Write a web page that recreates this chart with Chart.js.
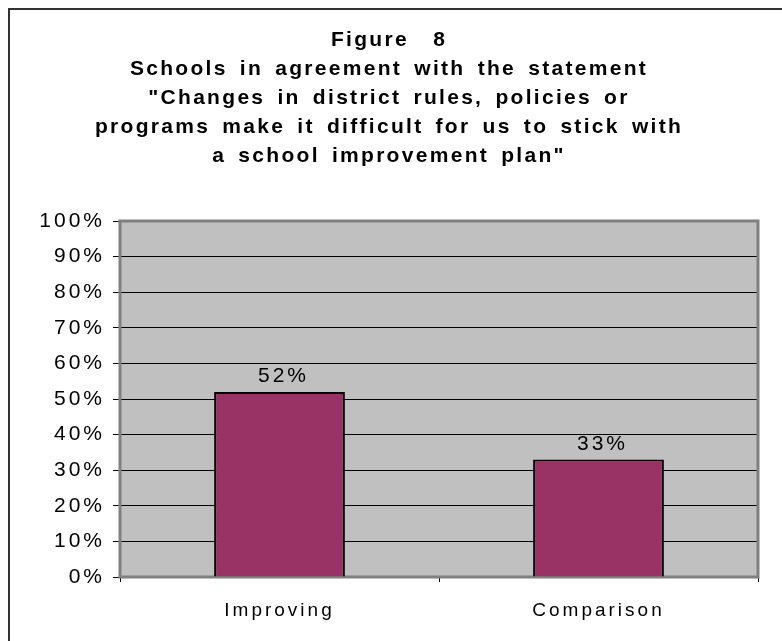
<!DOCTYPE html>
<html>
<head>
<meta charset="utf-8">
<script src="https://cdn.jsdelivr.net/npm/chart.js@4"></script>
<style>
    html, body { margin: 0; padding: 0; background: #ffffff; }
    #wrap { width: 782px; height: 641px; }
</style>
</head>
<body>
<div id="wrap"><canvas id="chart"></canvas></div>
<script>
// Données du graphique
const categories = ['Improving', 'Comparison'];
const agreementValues = [0.52, 0.33];
const yTickValues = [0, 0.1, 0.2, 0.3, 0.4, 0.5, 0.6, 0.7, 0.8, 0.9, 1];
const titleLines = [
    'Figure  8',
    'Schools in agreement with the statement',
    '"Changes in district rules, policies or',
    'programs make it difficult for us to stick with',
    'a school improvement plan"'
];

const FONT = "'Liberation Sans', Arial, sans-serif";

/**
 * Espacement des lettres (texte style Excel)
 * Le titre a un espacement un peu plus serré que les axes
 */
const spacingPlugin = {
    id: 'spacing',
    beforeLayout(chart) {
        chart.ctx.letterSpacing = '3px';
        chart.ctx.wordSpacing = '4px';
    },
    afterLayout(chart) {
        const title = chart.titleBlock;
        if (title && !title._spaced) {
            const draw = title.draw.bind(title);
            title.draw = function () {
                const c = this.ctx;
                const old = c.letterSpacing;
                c.letterSpacing = '2.3px';
                draw();
                c.letterSpacing = old;
            };
            title._spaced = true;
        }
    },
    beforeDraw(chart) {
        chart.ctx.letterSpacing = '3px';
        chart.ctx.wordSpacing = '4px';
    }
};

/**
 * Cadre extérieur et fond gris de la zone de tracé
 */
const backgroundPlugin = {
    id: 'plotBackground',
    beforeDraw(chart) {
        const { ctx, chartArea: a } = chart;
        ctx.save();
        ctx.strokeStyle = '#333333';
        ctx.lineWidth = 2;
        ctx.beginPath();
        ctx.moveTo(9, 700);
        ctx.lineTo(9, 9);
        ctx.lineTo(900, 9);
        ctx.stroke();
        ctx.fillStyle = '#c0c0c0';
        ctx.fillRect(a.left, a.top, a.right - a.left, a.bottom - a.top);
        ctx.restore();
    },
    beforeDatasetsDraw(chart) {
        const { ctx, chartArea: a } = chart;
        ctx.save();
        ctx.strokeStyle = '#808080';
        ctx.lineWidth = 3;
        ctx.strokeRect(a.left, a.top, a.right - a.left, a.bottom - a.top);
        ctx.restore();
    }
};

/**
 * Étiquettes de valeur au-dessus des barres
 */
const valueLabelPlugin = {
    id: 'valueLabels',
    afterDatasetsDraw(chart) {
        const { ctx } = chart;
        const meta = chart.getDatasetMeta(0);
        ctx.save();
        ctx.font = '21px ' + FONT;
        ctx.fillStyle = '#000000';
        ctx.textAlign = 'center';
        ctx.textBaseline = 'alphabetic';
        meta.data.forEach((bar, i) => {
            const label = Math.round(agreementValues[i] * 100) + '%';
            ctx.fillText(label, bar.x + 4, bar.y - 10);
        });
        ctx.restore();
    }
};

const ctx = document.getElementById('chart');

new Chart(ctx, {
    type: 'bar',
    data: {
        labels: categories,
        datasets: [{
            data: agreementValues,
            backgroundColor: '#993366',
            borderColor: '#000000',
            borderWidth: 2,
            categoryPercentage: 1,
            barPercentage: 0.41
        }]
    },
    options: {
        responsive: true,
        maintainAspectRatio: false,
        animation: false,
        layout: {
            padding: { left: 20, right: 24, top: 20, bottom: 10 }
        },
        plugins: {
            legend: { display: false },
            tooltip: { enabled: false },
            title: {
                display: true,
                text: titleLines,
                color: '#000000',
                font: { family: FONT, size: 21, weight: 'bold', lineHeight: '29px' },
                padding: { top: 5.5, bottom: 50.5 }
            }
        },
        scales: {
            x: {
                grid: {
                    offset: true,
                    drawOnChartArea: false,
                    color: '#000000',
                    tickLength: 5
                },
                border: { display: false },
                ticks: {
                    color: '#000000',
                    font: { family: FONT, size: 19 },
                    padding: 17
                },
                afterFit(scale) { scale.height = 54; }
            },
            y: {
                min: 0,
                max: 1,
                grid: {
                    color: '#000000',
                    tickLength: 7
                },
                border: { display: false },
                afterBuildTicks(scale) {
                    scale.ticks = yTickValues.map(v => ({ value: v }));
                },
                ticks: {
                    color: '#000000',
                    font: { family: FONT, size: 21 },
                    padding: 8,
                    callback: (v) => Math.round(v * 100) + '%'
                },
                afterFit(scale) { scale.width = 100; }
            }
        }
    },
    plugins: [spacingPlugin, backgroundPlugin, valueLabelPlugin]
});
</script>
</body>
</html>
